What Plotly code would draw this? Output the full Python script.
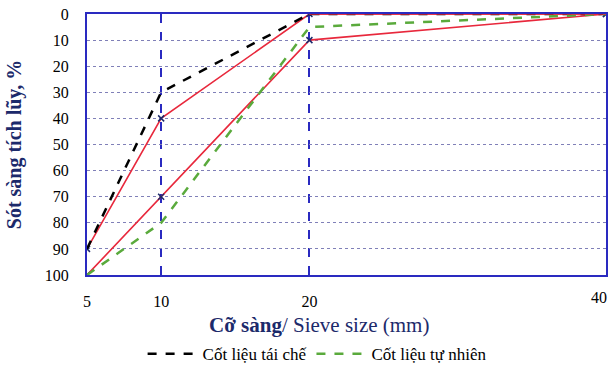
import plotly.graph_objects as go

sieve = [5, 10, 20, 40]
sieve_labels = ["5", "10", "20", ""]
upper_limit = [90, 40, 0, 0]
lower_limit = [100, 70, 10, 0]
recycled = [90, 30, 0, 0]
natural = [100, 80, 5, 0]
y_ticks = list(range(0, 101, 10))

RED = "#e8283c"
BLUE = "#2a2ac0"
NAVY = "#1c2a6b"
SERIF = "Times New Roman, Liberation Serif, DejaVu Serif, serif"

fig = go.Figure()
for ys in (lower_limit, upper_limit):
    fig.add_trace(go.Scatter(x=sieve, y=ys, mode="lines+markers",
                             line=dict(color=RED, width=1.6),
                             marker=dict(symbol="x-thin", size=6, color=NAVY,
                                         line=dict(color=NAVY, width=1.5)),
                             showlegend=False))
fig.add_trace(go.Scatter(x=sieve, y=recycled, mode="lines", name="Cốt liệu tái chế",
                         line=dict(color="black", width=2.5, dash="dash")))
fig.add_trace(go.Scatter(x=sieve, y=natural, mode="lines", name="Cốt liệu tự nhiên",
                         line=dict(color="#5aaa3c", width=2.5, dash="dash")))
fig.add_trace(go.Scatter(x=sieve[2:], y=upper_limit[2:], mode="lines",
                         line=dict(color=RED, width=1.6), showlegend=False, hoverinfo="skip"))

# last tick label placed so it stays inside the picture
fig.add_annotation(x=1, y=0, xref="paper", yref="paper", text=str(sieve[-1]),
                   showarrow=False, xanchor="right", yanchor="top", xshift=3, yshift=-12,
                   font=dict(family=SERIF, size=16, color="black"))
# x-axis title
fig.add_annotation(x=0.447, y=0, xref="paper", yref="paper",
                   text="<b>Cỡ sàng</b>/ Sieve size (mm)",
                   showarrow=False, xanchor="center", yanchor="middle", yshift=-50,
                   font=dict(family=SERIF, size=21, color=NAVY))

fig.update_layout(
    width=611, height=367,
    margin=dict(l=87, r=3, t=14, b=92),
    paper_bgcolor="white", plot_bgcolor="white",
    font=dict(family=SERIF, size=16, color="black"),
    legend=dict(orientation="h", xref="container", yref="container",
                x=0.519, xanchor="center", y=0.035, yanchor="middle",
                font=dict(family=SERIF, size=17, color="black"), itemwidth=50,
                bgcolor="rgba(0,0,0,0)"),
    xaxis=dict(range=[5, 40], tickvals=sieve, ticktext=sieve_labels,
               showgrid=True, gridcolor=BLUE, gridwidth=2, griddash="dash",
               showline=True, linecolor=BLUE, linewidth=2, mirror=True,
               zeroline=False, ticks="", ticklen=0, ticklabelstandoff=11,
               tickfont=dict(family=SERIF, size=16, color="black")),
    yaxis=dict(range=[100, 0], tickvals=y_ticks,
               showgrid=True, gridcolor="#8080b8", gridwidth=1, griddash="dot",
               showline=True, linecolor=BLUE, linewidth=2, mirror=True,
               zeroline=False, ticks="", ticklen=0, ticklabelstandoff=13,
               tickfont=dict(family=SERIF, size=16, color="black"),
               title=dict(text="<b>Sót sàng tích lũy, %</b>",
                          font=dict(family=SERIF, size=20, color=NAVY), standoff=18)),
)

fig.write_html("out.html", config={"displayModeBar": False},
               post_script="document.body.style.margin='0';document.body.style.overflow='hidden';")
